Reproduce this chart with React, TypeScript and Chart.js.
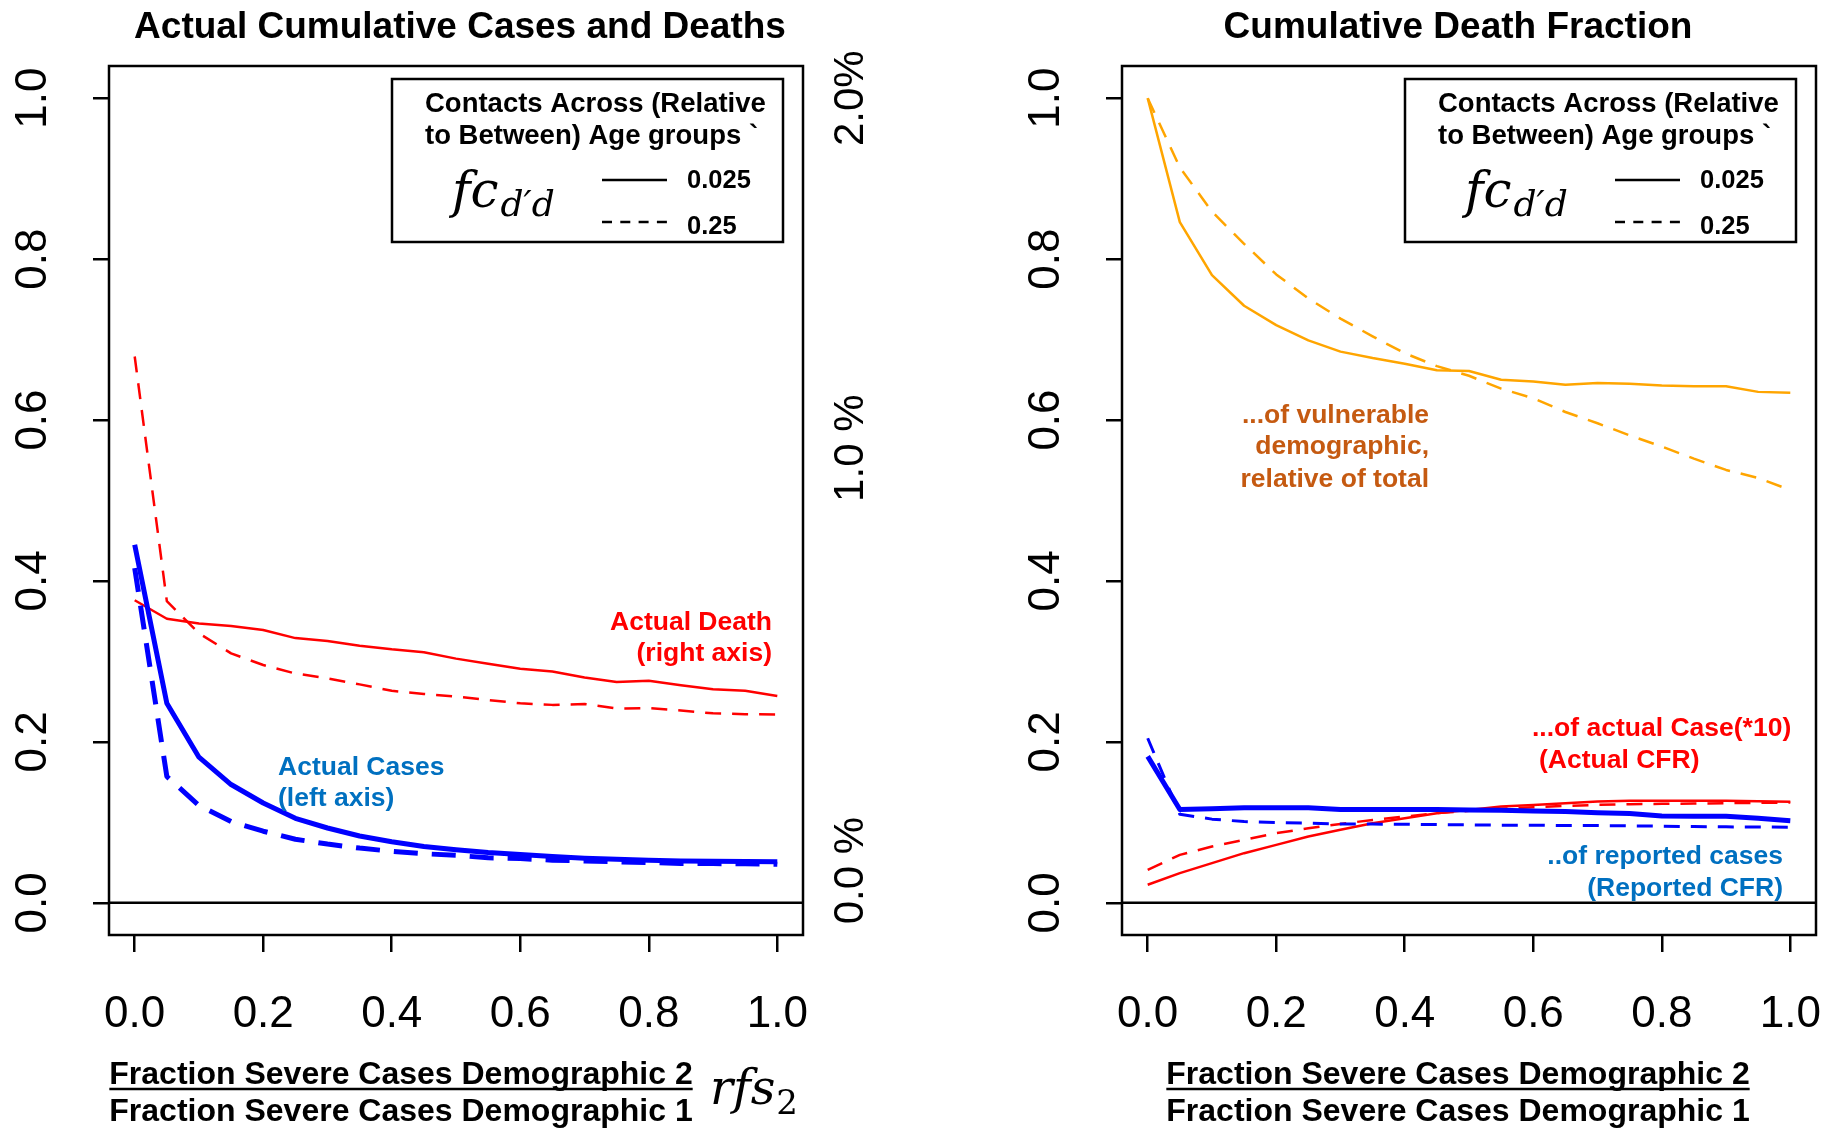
import React, { useEffect, useRef } from "react";
import { Chart, registerables } from "chart.js";

Chart.register(...registerables);

const SANS = "'Liberation Sans', Arial, Helvetica, sans-serif";
const SERIF = "'DejaVu Serif', 'Liberation Serif', serif";

// ---------- data ----------
const xValues = [0, 0.05, 0.1, 0.15, 0.2, 0.25, 0.3, 0.35, 0.4, 0.45, 0.5, 0.55, 0.6, 0.65, 0.7, 0.75, 0.8, 0.85, 0.9, 0.95, 1.0];

// left panel: actual cumulative cases (left axis, fraction)
const casesFc0025 = [0.445, 0.248, 0.181, 0.147, 0.124, 0.105, 0.093, 0.083, 0.076, 0.070, 0.066, 0.0625, 0.060, 0.0575, 0.0555, 0.054, 0.053, 0.052, 0.0518, 0.0514, 0.051];
const casesFc025 = [0.416, 0.157, 0.121, 0.101, 0.089, 0.079, 0.073, 0.068, 0.064, 0.061, 0.059, 0.056, 0.055, 0.053, 0.052, 0.051, 0.050, 0.049, 0.0488, 0.0484, 0.048];
// left panel: actual cumulative deaths (right axis, percent)
const deathsFc0025 = [0.752, 0.706, 0.694, 0.688, 0.678, 0.658, 0.651, 0.639, 0.630, 0.623, 0.607, 0.594, 0.582, 0.575, 0.560, 0.549, 0.552, 0.541, 0.531, 0.527, 0.514];
const deathsFc025 = [1.358, 0.750, 0.670, 0.620, 0.591, 0.570, 0.558, 0.543, 0.527, 0.519, 0.513, 0.504, 0.496, 0.492, 0.494, 0.483, 0.484, 0.478, 0.471, 0.469, 0.468];

// right panel: cumulative death fraction
const vulnerableFc0025 = [1.0, 0.846, 0.780, 0.742, 0.718, 0.699, 0.685, 0.677, 0.670, 0.662, 0.661, 0.650, 0.648, 0.644, 0.646, 0.645, 0.643, 0.642, 0.642, 0.635, 0.634];
const vulnerableFc025 = [1.0, 0.914, 0.859, 0.819, 0.781, 0.751, 0.726, 0.704, 0.683, 0.667, 0.655, 0.639, 0.627, 0.610, 0.596, 0.581, 0.567, 0.552, 0.538, 0.528, 0.513];
const reportedCfrFc0025 = [0.182, 0.116, 0.117, 0.118, 0.118, 0.118, 0.116, 0.116, 0.116, 0.116, 0.1155, 0.115, 0.114, 0.1135, 0.112, 0.111, 0.108, 0.1075, 0.1075, 0.105, 0.102];
const reportedCfrFc025 = [0.2045, 0.110, 0.104, 0.101, 0.0998, 0.099, 0.098, 0.0978, 0.0977, 0.0972, 0.0968, 0.0965, 0.0965, 0.096, 0.096, 0.0956, 0.0952, 0.0948, 0.0944, 0.0942, 0.094];
const actualCfrFc0025 = [0.0224, 0.0369, 0.0493, 0.0617, 0.072, 0.0824, 0.0907, 0.0989, 0.1051, 0.1114, 0.1155, 0.1196, 0.1217, 0.1238, 0.1259, 0.1267, 0.127, 0.127, 0.1267, 0.1263, 0.1255];
const actualCfrFc025 = [0.041, 0.0596, 0.0699, 0.0783, 0.0865, 0.0927, 0.098, 0.103, 0.1072, 0.1114, 0.1143, 0.1168, 0.1188, 0.1205, 0.1217, 0.1226, 0.123, 0.1234, 0.1238, 0.1242, 0.1246];

// ticks / labels
const xTicks = [0, 0.2, 0.4, 0.6, 0.8, 1.0];
const xTickLabels = ["0.0", "0.2", "0.4", "0.6", "0.8", "1.0"];
const yTicks = [0, 0.2, 0.4, 0.6, 0.8, 1.0];
const yTickLabels = ["0.0", "0.2", "0.4", "0.6", "0.8", "1.0"];
const rightAxisLabels = ["0.0 %", "1.0 %", "2.0%"];
const rightAxisAt = [0.08, 1.13, 2.0];

const titles = ["Actual Cumulative Cases and Deaths", "Cumulative Death Fraction"];
const xTitleTop = "Fraction Severe Cases Demographic 2";
const xTitleBottom = "Fraction Severe Cases Demographic 1";
const legendHeader = ["Contacts Across (Relative", "to Between) Age groups `"];
const legendValues = ["0.025", "0.25"];

const notesLeft = [
  ["Actual Death", "(right axis)"],
  ["Actual Cases", "(left axis)"],
];
const notesRight = [
  ["...of vulnerable", "demographic,", "relative of total"],
  ["...of actual Case(*10)", "(Actual CFR)"],
  ["..of reported cases", "(Reported CFR)"],
];

// ---------- helpers ----------
const pts = (arr: number[]) => xValues.map((x, i) => ({ x, y: arr[i] }));

const RED = "#ff0000";
const BLUE = "#0000ff";
const ORANGE = "#ffa500";
const TXT_RED = "#ff0000";
const TXT_BLUE = "#0070c0";
const TXT_ORANGE = "#c55a11";

type Note = { lines: string[]; x: number; ys: number[]; align: CanvasTextAlign; color: string; xs?: number[] };

function zeroPad(s: any) {
  s.paddingLeft = 0;
  s.paddingRight = 0;
  s.paddingTop = 0;
  s.paddingBottom = 0;
}

function xScale() {
  return {
    type: "linear" as const,
    min: -0.04,
    max: 1.04,
    afterBuildTicks: (s: any) => {
      s.ticks = xTicks.map((v) => ({ value: v }));
    },
    afterFit: (s: any) => {
      s.height = 193;
      zeroPad(s);
    },
    grid: { drawOnChartArea: false, drawTicks: true, tickLength: 17, color: "#000", lineWidth: 2.5, tickWidth: 2.5 },
    border: { display: false },
    ticks: {
      autoSkip: false,
      maxRotation: 0,
      minRotation: 0,
      padding: 36,
      color: "#000",
      font: { family: SANS, size: 44 },
      callback: (_v: any, i: number) => xTickLabels[i],
    },
  };
}

function yScale() {
  return {
    type: "linear" as const,
    position: "left" as const,
    min: -0.04,
    max: 1.04,
    afterBuildTicks: (s: any) => {
      s.ticks = yTicks.map((v) => ({ value: v }));
    },
    afterFit: (s: any) => {
      s.width = 109;
      zeroPad(s);
    },
    grid: { drawOnChartArea: false, drawTicks: true, tickLength: 16, color: "#000", lineWidth: 2.5, tickWidth: 2.5 },
    border: { display: false },
    ticks: {
      autoSkip: false,
      minRotation: 90,
      maxRotation: 90,
      crossAlign: "center" as const,
      padding: 29,
      color: "#000",
      font: { family: SANS, size: 44 },
      callback: (_v: any, i: number) => yTickLabels[i],
    },
  };
}

function line(label: string, data: number[], color: string, width: number, dash: number[] | null, axis = "y") {
  return {
    label,
    data: pts(data),
    borderColor: color,
    backgroundColor: color,
    borderWidth: width,
    borderDash: dash || [],
    borderJoinStyle: "round" as const,
    borderCapStyle: "butt" as const,
    pointRadius: 0,
    tension: 0,
    fill: false,
    yAxisID: axis,
  };
}

function makeDecor(p: { ox: number; title: string; titleX: number; xTitleX: number; rfs: boolean; notes: Note[]; rightLabels: boolean }) {
  return {
    id: "decor",
    beforeDraw(chart: any) {
      const ctx = chart.ctx as CanvasRenderingContext2D;
      ctx.save();
      ctx.fillStyle = "#fff";
      ctx.fillRect(0, 0, chart.width, chart.height);
      ctx.restore();
    },
    afterDraw(chart: any) {
      const ctx = chart.ctx as CanvasRenderingContext2D;
      const a = chart.chartArea;
      const L = a.left;
      const T = a.top;
      const ox = p.ox;
      ctx.save();
      ctx.setLineDash([]);
      ctx.strokeStyle = "#000";
      ctx.lineWidth = 2.5;
      ctx.strokeRect(a.left, a.top, a.right - a.left, a.bottom - a.top);
      const y0 = chart.scales.y.getPixelForValue(0);
      ctx.beginPath();
      ctx.moveTo(a.left, y0);
      ctx.lineTo(a.right, y0);
      ctx.stroke();

      // legend box
      ctx.fillStyle = "#fff";
      ctx.fillRect(L + 283, T + 13, 391, 163);
      ctx.strokeRect(L + 283, T + 13, 391, 163);
      ctx.fillStyle = "#000";
      ctx.textAlign = "left";
      ctx.textBaseline = "alphabetic";
      ctx.font = `bold 27.5px ${SANS}`;
      ctx.fillText(legendHeader[0], L + 316, T + 46);
      ctx.fillText(legendHeader[1], L + 316, T + 78);
      ctx.font = `italic 50px ${SERIF}`;
      ctx.fillText("fc", L + 343, T + 141);
      const fcW = ctx.measureText("fc").width;
      ctx.font = `italic 36px ${SERIF}`;
      ctx.fillText("d\u2032d", L + 343 + fcW + 2, T + 150);
      ctx.beginPath();
      ctx.moveTo(L + 493, T + 114);
      ctx.lineTo(L + 558, T + 114);
      ctx.stroke();
      ctx.setLineDash([10, 8.3]);
      ctx.beginPath();
      ctx.moveTo(L + 493, T + 156);
      ctx.lineTo(L + 558, T + 156);
      ctx.stroke();
      ctx.setLineDash([]);
      ctx.font = `bold 25.5px ${SANS}`;
      ctx.fillText(legendValues[0], L + 578, T + 122);
      ctx.fillText(legendValues[1], L + 578, T + 168);

      // title
      ctx.textAlign = "center";
      ctx.font = `bold 37px ${SANS}`;
      ctx.fillText(p.title, p.titleX - ox, 38);

      // x axis title as fraction
      ctx.font = `bold 32px ${SANS}`;
      const cx = p.xTitleX - ox;
      ctx.fillText(xTitleTop, cx, 1084);
      const w = ctx.measureText(xTitleTop).width;
      ctx.beginPath();
      ctx.moveTo(cx - w / 2, 1089);
      ctx.lineTo(cx + w / 2, 1089);
      ctx.stroke();
      ctx.fillText(xTitleBottom, cx, 1121);
      if (p.rfs) {
        ctx.textAlign = "left";
        ctx.font = `italic 48px ${SERIF}`;
        ctx.fillText("rfs", 710 - ox, 1104);
        const rw = ctx.measureText("rfs").width;
        ctx.font = `34px ${SERIF}`;
        ctx.fillText("2", 710 + rw + 1 - ox, 1114);
      }

      // annotations
      ctx.font = `bold 26.5px ${SANS}`;
      for (const n of p.notes) {
        ctx.fillStyle = n.color;
        ctx.textAlign = n.align;
        n.lines.forEach((t, i) => {
          const x = (n.xs ? n.xs[i] : n.x) - ox;
          ctx.fillText(t, x, n.ys[i]);
        });
      }

      // right axis labels (percent)
      if (p.rightLabels) {
        const s = chart.scales.y2;
        ctx.fillStyle = "#000";
        ctx.font = `42px ${SANS}`;
        ctx.textAlign = "center";
        ctx.textBaseline = "middle";
        rightAxisLabels.forEach((t, i) => {
          const py = s.getPixelForValue(rightAxisAt[i]);
          ctx.save();
          ctx.translate(851 - ox, py);
          ctx.rotate(-Math.PI / 2);
          ctx.fillText(t, 0, 0);
          ctx.restore();
        });
      }
      ctx.restore();
    },
  };
}

function baseOptions(padding: any, scales: any) {
  return {
    responsive: false,
    animation: false as const,
    devicePixelRatio: 1,
    events: [] as any[],
    layout: { padding },
    plugins: { legend: { display: false }, title: { display: false }, tooltip: { enabled: false } },
    scales,
  };
}

export default function App() {
  const leftRef = useRef<HTMLCanvasElement>(null);
  const rightRef = useRef<HTMLCanvasElement>(null);

  useEffect(() => {
    document.body.style.margin = "0";

    const leftNotes: Note[] = [
      { lines: notesLeft[0], x: 772, ys: [630, 661], align: "right", color: TXT_RED },
      { lines: notesLeft[1], x: 278, ys: [775, 806], align: "left", color: TXT_BLUE },
    ];
    const rightNotes: Note[] = [
      { lines: notesRight[0], x: 1429, ys: [423, 454, 487], align: "right", color: TXT_ORANGE },
      { lines: notesRight[1], x: 1532, xs: [1532, 1539], ys: [736, 768], align: "left", color: TXT_RED },
      { lines: notesRight[2], x: 1783, ys: [864, 896], align: "right", color: TXT_BLUE },
    ];

    const left = new Chart(leftRef.current as HTMLCanvasElement, {
      type: "line",
      data: {
        datasets: [
          line("Actual cases, fc=0.025", casesFc0025, BLUE, 5, null),
          line("Actual cases, fc=0.25", casesFc025, BLUE, 5, [24, 14]),
          line("Actual deaths, fc=0.025", deathsFc0025, RED, 2.5, null, "y2"),
          line("Actual deaths, fc=0.25", deathsFc025, RED, 2.5, [16, 11], "y2"),
        ] as any,
      },
      options: baseOptions(
        { left: 0, top: 66, right: 109, bottom: 0 },
        {
          x: xScale(),
          y: yScale(),
          y2: { type: "linear", display: false, min: -0.08, max: 2.08 },
        }
      ) as any,
      plugins: [
        makeDecor({ ox: 0, title: titles[0], titleX: 460, xTitleX: 401, rfs: true, notes: leftNotes, rightLabels: true }),
      ],
    });

    const right = new Chart(rightRef.current as HTMLCanvasElement, {
      type: "line",
      data: {
        datasets: [
          line("Reported CFR, fc=0.025", reportedCfrFc0025, BLUE, 5, null),
          line("Reported CFR, fc=0.25", reportedCfrFc025, BLUE, 3, [16, 11]),
          line("Actual CFR, fc=0.025", actualCfrFc0025, RED, 2.5, null),
          line("Actual CFR, fc=0.25", actualCfrFc025, RED, 2.5, [16, 11]),
          line("Vulnerable share, fc=0.025", vulnerableFc0025, ORANGE, 2.5, null),
          line("Vulnerable share, fc=0.25", vulnerableFc025, ORANGE, 2.5, [16, 11]),
        ] as any,
      },
      options: baseOptions({ left: 101, top: 66, right: 9, bottom: 0 }, { x: xScale(), y: yScale() }) as any,
      plugins: [
        makeDecor({ ox: 912, title: titles[1], titleX: 1458, xTitleX: 1458, rfs: false, notes: rightNotes, rightLabels: false }),
      ],
    });

    return () => {
      left.destroy();
      right.destroy();
    };
  }, []);

  return (
    <div style={{ position: "absolute", left: 0, top: 0, width: 1825, height: 1128, background: "#fff", overflow: "hidden" }}>
      <canvas ref={leftRef} width={912} height={1128} style={{ position: "absolute", left: 0, top: 0, width: 912, height: 1128 }} />
      <canvas ref={rightRef} width={913} height={1128} style={{ position: "absolute", left: 912, top: 0, width: 913, height: 1128 }} />
    </div>
  );
}
